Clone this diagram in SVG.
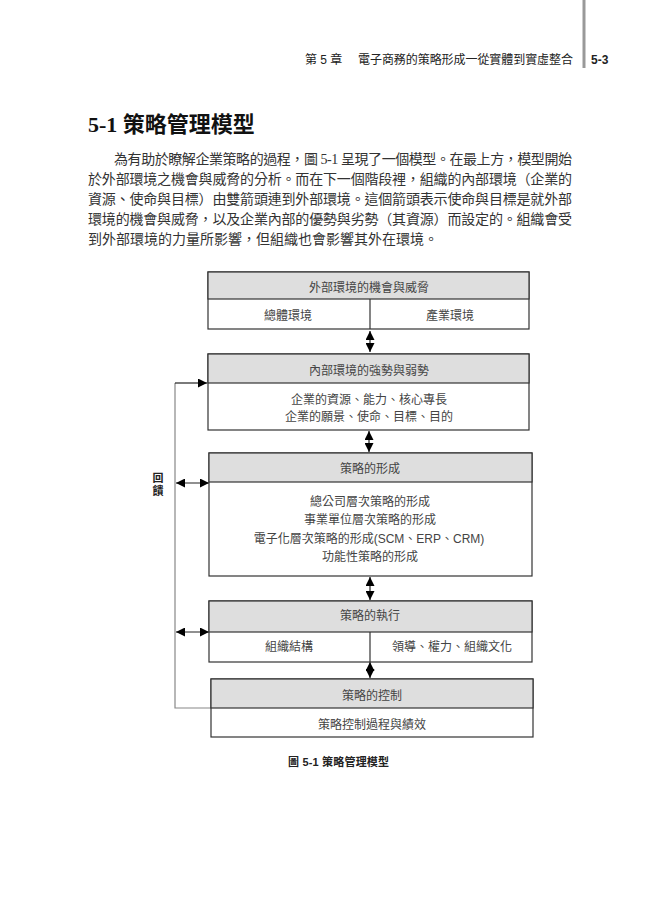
<svg xmlns="http://www.w3.org/2000/svg" width="663" height="899" viewBox="0 0 663 899">
<style>
.hdr{font-family:"Liberation Sans","Noto Sans CJK TC",sans-serif;font-size:12px;fill:#222;}
.title{font-family:"Liberation Serif","Noto Sans CJK TC",serif;font-size:22px;font-weight:bold;fill:#111;}
.para{font-family:"Liberation Serif","Noto Sans CJK TC",serif;font-size:14px;fill:#333;}
.lbl{font-family:"Liberation Sans","Noto Sans CJK TC",sans-serif;font-size:12px;fill:#444;text-anchor:middle;}
.cap{font-family:"Liberation Sans","Noto Sans CJK TC",sans-serif;font-size:11px;font-weight:bold;fill:#222;}
.box{fill:#fff;stroke:#333;stroke-width:1.2;}
.head{fill:#dedede;stroke:#333;stroke-width:1.2;}
.ln{stroke:#333;stroke-width:1.2;fill:none;}
.con{stroke:#222;stroke-width:1.2;fill:none;}
.fb{stroke:#888;stroke-width:1.2;fill:none;}
</style>
<defs>
<marker id="ah" viewBox="0 0 10 10" refX="10" refY="5" markerWidth="9" markerHeight="9" markerUnits="userSpaceOnUse" orient="auto-start-reverse">
<path d="M0,0 L10,5 L0,10 z" fill="#000"/>
</marker>
</defs>
<rect width="663" height="899" fill="#fff"/>

<g id="page-header">
<rect x="582.5" y="0" width="3" height="68" fill="#999"/>
<text class="hdr" x="305" y="64">第 5 章</text>
<text class="hdr" x="358" y="64" textLength="215" lengthAdjust="spacing">電子商務的策略形成一從實體到實虛整合</text>
<text class="hdr" x="591" y="64" font-weight="bold">5-3</text>
</g>

<g id="section-title">
<text class="title" x="88" y="132">5-1 策略管理模型</text>
</g>

<g id="paragraph">
<text class="para" x="114" y="164" textLength="458" lengthAdjust="spacing">為有助於瞭解企業策略的過程，圖 5-1 呈現了一個模型。在最上方，模型開始</text>
<text class="para" x="88" y="184" textLength="484" lengthAdjust="spacing">於外部環境之機會與威脅的分析。而在下一個階段裡，組織的內部環境（企業的</text>
<text class="para" x="88" y="204" textLength="484" lengthAdjust="spacing">資源、使命與目標）由雙箭頭連到外部環境。這個箭頭表示使命與目標是就外部</text>
<text class="para" x="88" y="224" textLength="484" lengthAdjust="spacing">環境的機會與威脅，以及企業內部的優勢與劣勢（其資源）而設定的。組織會受</text>
<text class="para" x="88" y="244">到外部環境的力量所影響，但組織也會影響其外在環境。</text>
</g>

<g id="connectors">
<line class="con" x1="370" y1="331" x2="370" y2="352" marker-start="url(#ah)" marker-end="url(#ah)"/>
<line class="con" x1="369" y1="431" x2="369" y2="452" marker-start="url(#ah)" marker-end="url(#ah)"/>
<line class="con" x1="370" y1="577" x2="370" y2="600" marker-start="url(#ah)" marker-end="url(#ah)"/>
<line class="con" x1="370" y1="662" x2="370" y2="678" marker-start="url(#ah)" marker-end="url(#ah)"/>
<polyline class="fb" points="211,708 175,708 175,383"/>
<line class="con" x1="175" y1="383" x2="207" y2="383" marker-end="url(#ah)"/>
<line class="con" x1="176" y1="483" x2="209" y2="483" marker-start="url(#ah)" marker-end="url(#ah)"/>
<line class="con" x1="176" y1="632" x2="209" y2="632" marker-start="url(#ah)" marker-end="url(#ah)"/>
<text class="cap" x="158" y="482" text-anchor="middle">回</text>
<text class="cap" x="158" y="495" text-anchor="middle">饋</text>
</g>

<g id="node-external">
<rect class="box" x="208" y="272" width="321" height="57"/>
<rect class="head" x="208" y="272" width="321" height="27"/>
<line class="ln" x1="370" y1="299" x2="370" y2="329"/>
<text class="lbl" x="369" y="292">外部環境的機會與威脅</text>
<text class="lbl" x="288" y="320">總體環境</text>
<text class="lbl" x="450" y="320">產業環境</text>
</g>

<g id="node-internal">
<rect class="box" x="208" y="354" width="321" height="76"/>
<rect class="head" x="208" y="354" width="321" height="29"/>
<text class="lbl" x="369" y="375">內部環境的強勢與弱勢</text>
<text class="lbl" x="369" y="404">企業的資源、能力、核心專長</text>
<text class="lbl" x="369" y="421">企業的願景、使命、目標、目的</text>
</g>

<g id="node-formulation">
<rect class="box" x="209" y="453" width="323" height="123"/>
<rect class="head" x="209" y="453" width="323" height="29"/>
<text class="lbl" x="370" y="473">策略的形成</text>
<text class="lbl" x="370" y="506">總公司層次策略的形成</text>
<text class="lbl" x="370" y="524">事業單位層次策略的形成</text>
<text class="lbl" x="369" y="543">電子化層次策略的形成(SCM、ERP、CRM)</text>
<text class="lbl" x="370" y="561">功能性策略的形成</text>
</g>

<g id="node-implementation">
<rect class="box" x="209" y="601" width="323" height="61"/>
<rect class="head" x="209" y="601" width="323" height="31"/>
<line class="ln" x1="370" y1="632" x2="370" y2="662"/>
<text class="lbl" x="370" y="620">策略的執行</text>
<text class="lbl" x="289" y="651">組織結構</text>
<text class="lbl" x="452" y="651">領導、權力、組織文化</text>
</g>

<g id="node-control">
<rect class="box" x="211" y="679" width="322" height="58"/>
<rect class="head" x="211" y="679" width="322" height="29"/>
<text class="lbl" x="372" y="700">策略的控制</text>
<text class="lbl" x="372" y="729">策略控制過程與績效</text>
</g>

<g id="caption">
<text class="cap" x="288" y="766" textLength="101" lengthAdjust="spacing">圖 5-1 策略管理模型</text>
</g>
</svg>
